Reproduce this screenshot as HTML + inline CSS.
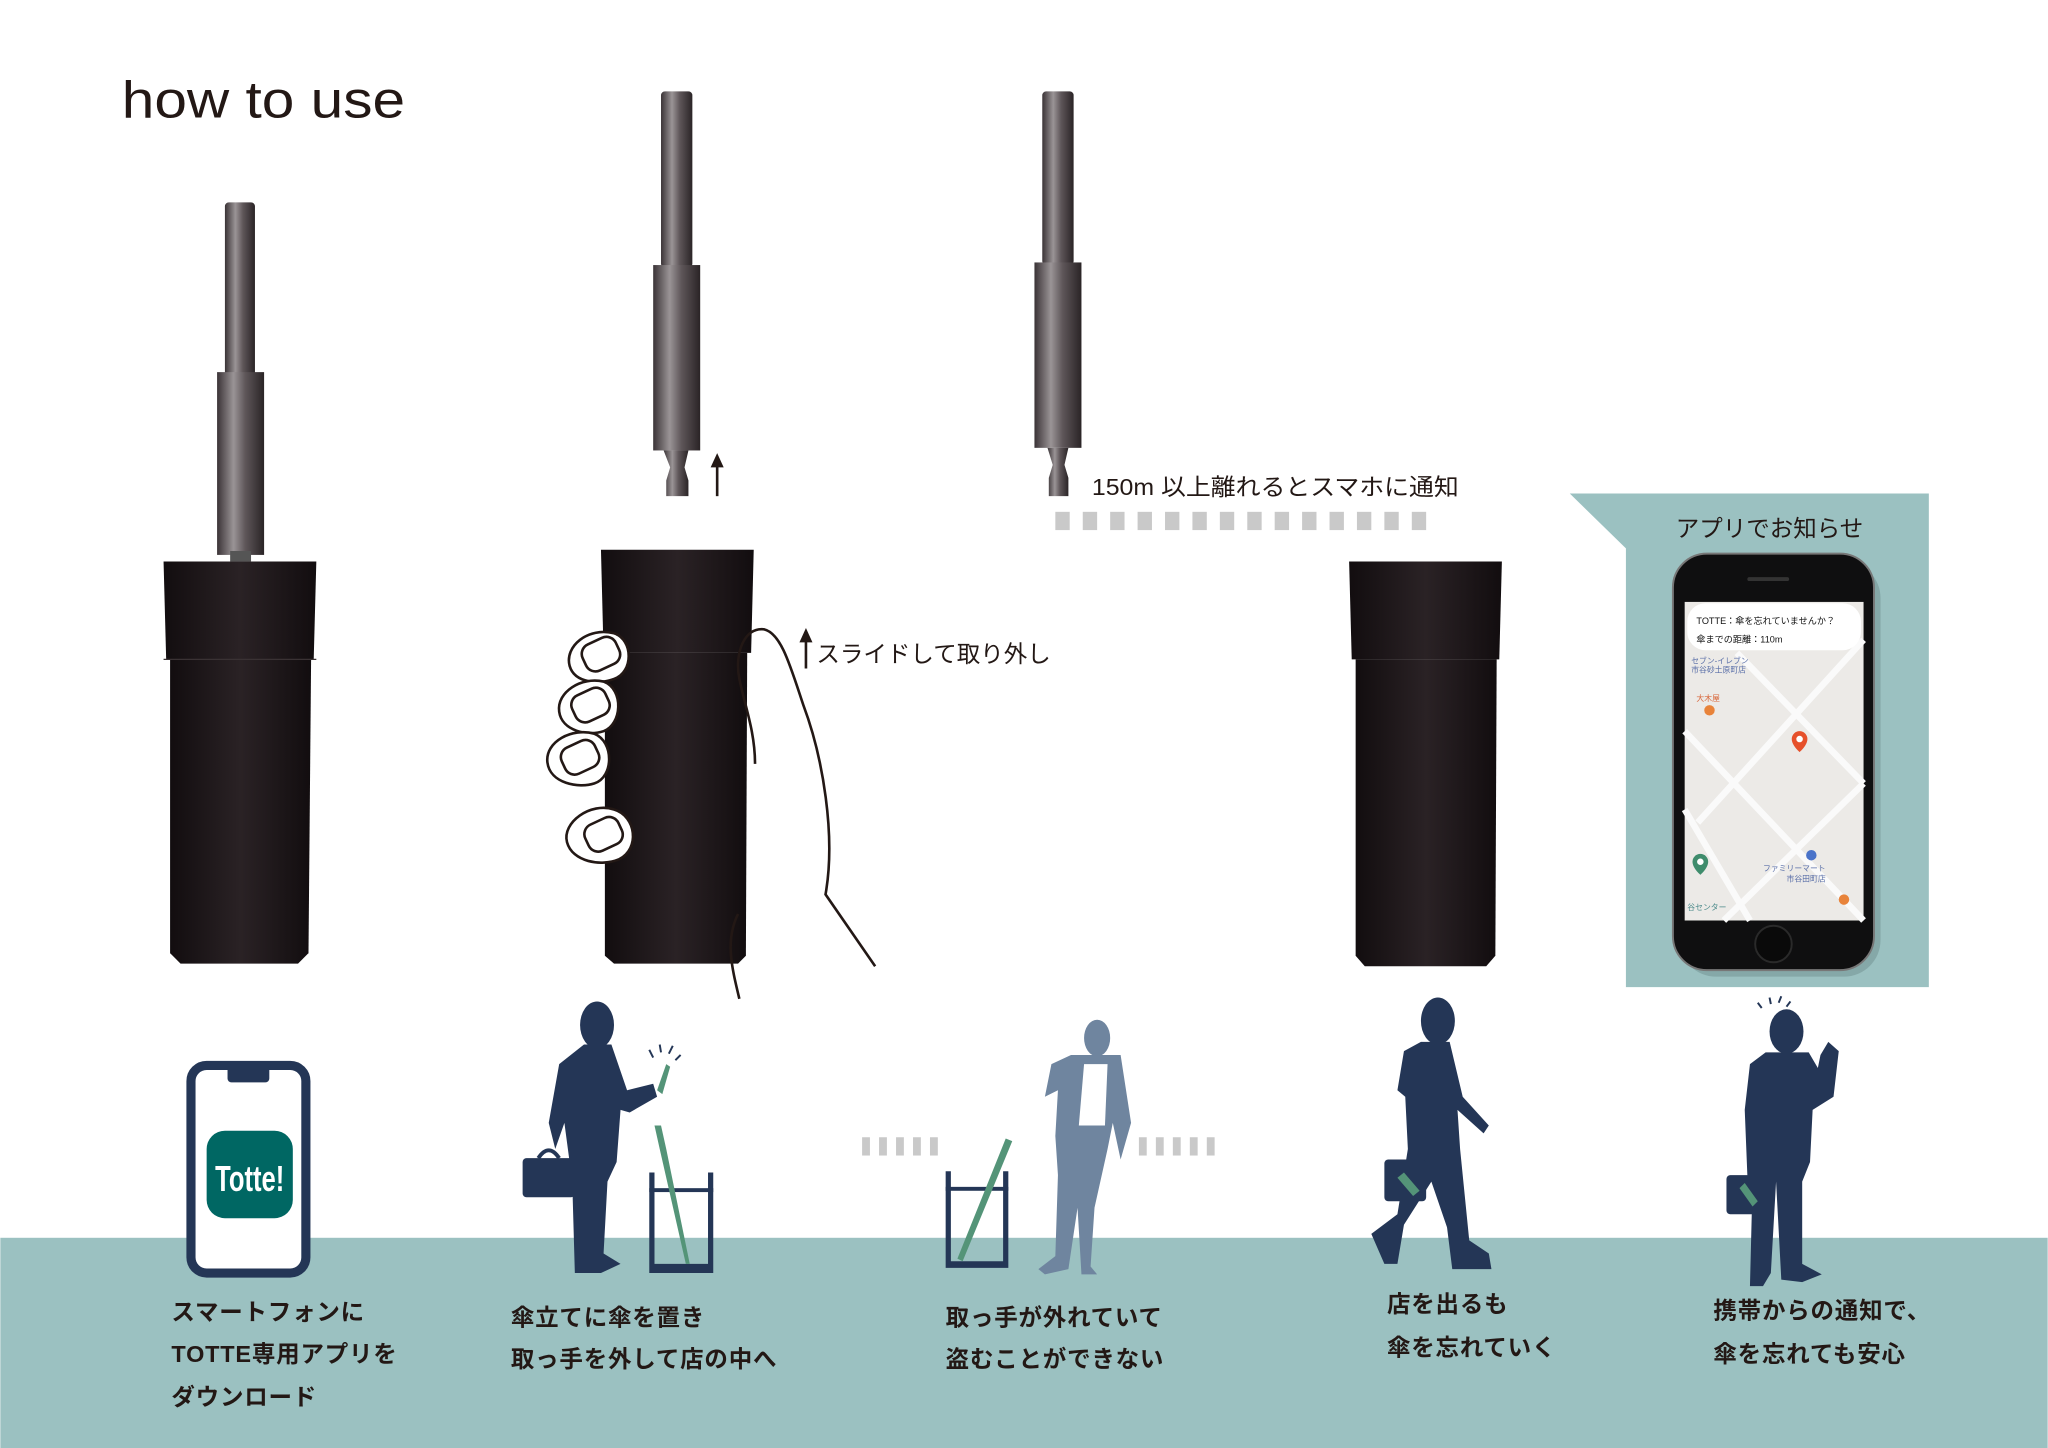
<!DOCTYPE html>
<html><head><meta charset="utf-8"><style>
html,body{margin:0;padding:0;background:#fff;}
svg{display:block;}
text{font-family:"Liberation Sans","Noto Sans CJK JP",sans-serif;}
</style></head><body>
<svg width="2048" height="1448" viewBox="0 0 1568 1109" xmlns="http://www.w3.org/2000/svg">
<defs>
<linearGradient id="metal" x1="0" x2="1" y1="0" y2="0">
<stop offset="0" stop-color="#3a3336"/><stop offset="0.35" stop-color="#9a9496"/><stop offset="0.6" stop-color="#5e5659"/><stop offset="1" stop-color="#2a2426"/>
</linearGradient>
<linearGradient id="body" x1="0" x2="1">
<stop offset="0" stop-color="#120d0f"/><stop offset="0.5" stop-color="#2a2225"/><stop offset="1" stop-color="#120d0f"/>
</linearGradient>
</defs>
<rect width="1568" height="1109" fill="#fff"/>
<rect x="0" y="948" width="1568" height="161" fill="#9bc1c1"/>
<text x="93" y="90" font-size="40" fill="#231815" textLength="217" lengthAdjust="spacingAndGlyphs">how to use</text>

<!-- product 1 -->
<rect x="172" y="155" width="23" height="135" rx="3" fill="url(#metal)"/>
<rect x="166" y="285" width="36" height="140" fill="url(#metal)"/>
<rect x="176" y="422" width="16" height="8" fill="#555"/>
<path d="M125 430 L242 430 L240 505 L127 505 Z" fill="url(#body)"/>
<path d="M130 505 L238 505 L236 730 L228 738 L138 738 L130 730 Z" fill="url(#body)"/>
<line x1="125" y1="505" x2="242" y2="505" stroke="#3a3234" stroke-width="1"/>

<!-- product 2 -->
<rect x="506" y="70" width="24" height="135" rx="3" fill="url(#metal)"/>
<rect x="500" y="203" width="36" height="142" fill="url(#metal)"/>
<path d="M508 345 L527 345 L524 358 L527 368 L527 380 L510 380 L510 368 L513 358 Z" fill="url(#metal)"/>
<line x1="549" y1="380" x2="549" y2="352" stroke="#231815" stroke-width="2"/>
<path d="M544 358 L549 347 L554 358 Z" fill="#231815"/>
<path d="M460 421 L577 421 L575 500 L462 500 Z" fill="url(#body)"/>
<path d="M463 500 L572 500 L571 732 L565 738 L470 738 L463 732 Z" fill="url(#body)"/>
<!-- hand -->
<g fill="#fff" stroke="#231815" stroke-width="2">
<path d="M566 765 C560 740 555 720 565 700" fill="none"/>
<path d="M670 740 L632 685 C640 640 630 580 615 540 C605 510 598 485 585 482 C570 480 562 500 566 520 C570 540 578 560 578 585" fill="none"/>
<path d="M470 485 C485 490 485 515 470 520 C460 524 440 524 436 510 C432 495 450 480 470 485 Z"/>
<path d="M462 522 C478 528 476 555 462 560 C450 564 430 560 428 545 C426 530 445 518 462 522 Z"/>
<path d="M455 562 C470 568 470 595 455 600 C443 604 421 600 419 584 C417 568 438 557 455 562 Z"/>
<path d="M470 620 C487 625 490 650 474 658 C460 664 438 660 434 645 C430 630 452 614 470 620 Z"/>
</g>
<g fill="none" stroke="#231815" stroke-width="2">
<rect x="446" y="490" width="28" height="22" rx="8" transform="rotate(-25 460 501)"/>
<rect x="438" y="529" width="28" height="22" rx="8" transform="rotate(-25 452 540)"/>
<rect x="430" y="569" width="28" height="22" rx="8" transform="rotate(-25 444 580)"/>
<rect x="448" y="628" width="28" height="22" rx="8" transform="rotate(-25 462 639)"/>
</g>
<line x1="617" y1="512" x2="617" y2="486" stroke="#231815" stroke-width="2"/>
<path d="M612 492 L617 481 L622 492 Z" fill="#231815"/>
<text x="625" y="507" font-size="18" fill="#231815">スライドして取り外し</text>

<!-- product 3 -->
<rect x="798" y="70" width="24" height="133" rx="3" fill="url(#metal)"/>
<rect x="792" y="201" width="36" height="142" fill="url(#metal)"/>
<path d="M802 343 L818 343 L815 356 L818 366 L818 380 L803 380 L803 366 L806 356 Z" fill="url(#metal)"/>
<text x="836" y="379" font-size="18" fill="#231815" textLength="281" lengthAdjust="spacingAndGlyphs">150m 以上離れるとスマホに通知</text>
<g fill="#c9c9c9">
<rect x="808" y="392" width="11" height="14"/><rect x="829" y="392" width="11" height="14"/><rect x="850" y="392" width="11" height="14"/><rect x="871" y="392" width="11" height="14"/><rect x="892" y="392" width="11" height="14"/><rect x="913" y="392" width="11" height="14"/><rect x="934" y="392" width="11" height="14"/><rect x="955" y="392" width="11" height="14"/><rect x="976" y="392" width="11" height="14"/><rect x="997" y="392" width="11" height="14"/><rect x="1018" y="392" width="11" height="14"/><rect x="1039" y="392" width="11" height="14"/><rect x="1060" y="392" width="11" height="14"/><rect x="1081" y="392" width="11" height="14"/>
</g>

<!-- product 4 -->
<path d="M1033 430 L1150 430 L1148 505 L1035 505 Z" fill="url(#body)"/>
<path d="M1038 505 L1146 505 L1145 732 L1138 740 L1045 740 L1038 732 Z" fill="url(#body)"/>

<!-- teal panel -->
<path d="M1202 378 L1477 378 L1477 756 L1245 756 L1245 420 Z" fill="#9bc1c1"/>
<text x="1355" y="411" font-size="18" fill="#231815" text-anchor="middle">アプリでお知らせ</text>
<rect x="1286" y="430" width="154" height="318" rx="28" fill="#6f8f8f" opacity="0.5"/>
<rect x="1281" y="424" width="154" height="319" rx="26" fill="#0f0f10" stroke="#777" stroke-width="1.5"/>
<rect x="1338" y="442" width="32" height="3" rx="1.5" fill="#333"/>
<circle cx="1358" cy="723" r="14" fill="#0a0a0a" stroke="#2a2a2a" stroke-width="1.5"/>
<rect x="1290" y="461" width="137" height="244" fill="#eceae7"/>
<g stroke="#fafafa" stroke-width="5" fill="none">
<line x1="1290" y1="560" x2="1427" y2="705"/>
<line x1="1300" y1="630" x2="1427" y2="490"/>
<line x1="1320" y1="705" x2="1427" y2="600"/>
<line x1="1330" y1="500" x2="1427" y2="600"/>
<line x1="1290" y1="620" x2="1340" y2="705"/>
</g>
<rect x="1292" y="462" width="133" height="36" rx="14" fill="#fff"/>
<text x="1299" y="478" font-size="7" fill="#111">TOTTE：傘を忘れていませんか？</text>
<text x="1299" y="492" font-size="7" fill="#111">傘までの距離：110m</text>
<text x="1295" y="508" font-size="6" fill="#5a6fa8">セブン-イレブン</text>
<text x="1295" y="515" font-size="6" fill="#5a6fa8">市谷砂土原町店</text>
<text x="1299" y="537" font-size="6" fill="#d8663a">大木屋</text>
<circle cx="1309" cy="544" r="4" fill="#e8833a"/>
<path d="M1372 566 a6 6 0 1 1 12 0 c0 5 -6 10 -6 10 c0 0 -6 -5 -6 -10z" fill="#e6502a"/>
<circle cx="1378" cy="566" r="2.5" fill="#fff"/>
<path d="M1296 660 a6 6 0 1 1 12 0 c0 5 -6 10 -6 10 c0 0 -6 -5 -6 -10z" fill="#3f8c6c"/>
<circle cx="1302" cy="660" r="2.5" fill="#fff"/>
<circle cx="1387" cy="655" r="4" fill="#4a73c9"/>
<text x="1350" y="667" font-size="6" fill="#5a6fa8">ファミリーマート</text>
<text x="1368" y="675" font-size="6" fill="#5a6fa8">市谷田町店</text>
<text x="1292" y="697" font-size="6" fill="#4a8a8a">谷センター</text>
<circle cx="1412" cy="689" r="4" fill="#e8833a"/>

<!-- bottom: phone icon -->
<rect x="146" y="816" width="88" height="159" rx="12" fill="#fff" stroke="#243656" stroke-width="7"/>
<rect x="174" y="816" width="32" height="13" rx="3" fill="#243656"/>
<rect x="158" y="866" width="66" height="67" rx="14" fill="#006763"/>
<text x="191" y="912" font-size="28" fill="#fff" text-anchor="middle" font-weight="bold" transform="translate(191 0) scale(0.7 1) translate(-191 0)">Totte!</text>

<!-- person 2 -->
<g fill="#243656">
<ellipse cx="457" cy="785" rx="13" ry="18"/>
<path d="M447 800 L468 800 L480 835 L500 830 L503 840 L482 852 L475 850 L472 890 L465 905 L462 960 L475 968 L460 975 L440 975 L438 905 L432 860 L425 880 L420 860 L428 815 Z"/>
<rect x="400" y="887" width="40" height="30" rx="3"/>
<path d="M412 887 q8 -12 16 0" fill="none" stroke="#243656" stroke-width="3"/>
<path d="M497 898 h4 v70 h41 v-70 h4 v77 h-49 z"/>
<rect x="497" y="910" width="49" height="3"/>
</g>
<path d="M503 835 L510 815 L513 817 L507 838 Z" fill="#549478"/>
<path d="M501 862 L505 880 L525 968 L528 968 L510 880 L506 862 Z" fill="#549478"/>
<g stroke="#243656" stroke-width="1.5"><line x1="500" y1="810" x2="497" y2="804"/><line x1="506" y1="806" x2="505" y2="800"/><line x1="512" y1="807" x2="515" y2="801"/><line x1="517" y1="812" x2="521" y2="808"/></g>

<!-- step 3 -->
<g fill="#c9c9c9">
<rect x="660" y="871" width="6" height="14"/><rect x="673" y="871" width="6" height="14"/><rect x="686" y="871" width="6" height="14"/><rect x="699" y="871" width="6" height="14"/><rect x="712" y="871" width="6" height="14"/>
<rect x="872" y="871" width="6" height="14"/><rect x="885" y="871" width="6" height="14"/><rect x="898" y="871" width="6" height="14"/><rect x="911" y="871" width="6" height="14"/><rect x="924" y="871" width="6" height="14"/>
</g>
<path d="M724 897 h4 v69 h40 v-69 h4 v74 h-48 z" fill="#243656"/>
<rect x="724" y="909" width="48" height="3" fill="#243656"/>
<path d="M770 872 L775 874 L737 966 L733 964 Z" fill="#549478"/>
<g fill="#6f859f">
<ellipse cx="840" cy="795" rx="10" ry="14"/>
<path d="M820 808 L858 808 L866 860 L858 888 L852 860 L848 880 L838 925 L835 970 L840 976 L828 976 L825 925 L818 972 L800 976 L795 972 L808 962 L810 900 L808 870 L810 835 L800 840 L805 815 Z"/>
</g>
<path d="M830 815 L848 815 L846 862 L826 862 Z" fill="#fff"/>

<!-- person 4 -->
<g fill="#243656">
<ellipse cx="1101" cy="782" rx="13" ry="18"/>
<path d="M1088 798 L1110 798 L1120 840 L1140 862 L1136 868 L1116 850 L1118 880 L1125 950 L1140 960 L1142 972 L1112 972 L1108 940 L1096 905 L1075 938 L1070 968 L1060 968 L1050 945 L1070 930 L1078 880 L1076 840 L1070 835 L1075 805 Z"/>
<rect x="1060" y="888" width="32" height="32" rx="3"/>
</g>
<path d="M1070 902 L1075 898 L1087 912 L1082 916 Z" fill="#549478"/>

<!-- person 5 -->
<g fill="#243656">
<ellipse cx="1368" cy="790" rx="13" ry="17"/>
<path d="M1352 806 L1385 806 L1392 818 L1394 808 L1400 798 L1408 805 L1404 840 L1388 850 L1386 890 L1380 905 L1380 968 L1395 976 L1380 982 L1364 980 L1360 905 L1356 975 L1350 985 L1340 985 L1342 905 L1338 900 L1336 850 L1340 815 Z"/>
<rect x="1322" y="900" width="28" height="30" rx="3"/>
</g>
<path d="M1332 910 L1336 906 L1346 920 L1342 924 Z" fill="#549478"/>
<g stroke="#243656" stroke-width="1.5"><line x1="1349" y1="772" x2="1346" y2="768"/><line x1="1356" y1="769" x2="1355" y2="764"/><line x1="1362" y1="768" x2="1364" y2="763"/><line x1="1368" y1="771" x2="1371" y2="767"/></g>

<!-- captions -->
<g font-size="18" fill="#231815" font-weight="bold" letter-spacing="0.6">
<text x="131" y="1011">スマートフォンに</text>
<text x="131" y="1043">TOTTE専用アプリを</text>
<text x="131" y="1076">ダウンロード</text>
<text x="391" y="1015">傘立てに傘を置き</text>
<text x="391" y="1047">取っ手を外して店の中へ</text>
<text x="724" y="1015">取っ手が外れていて</text>
<text x="724" y="1047">盗むことができない</text>
<text x="1062" y="1005">店を出るも</text>
<text x="1062" y="1038">傘を忘れていく</text>
<text x="1312" y="1010">携帯からの通知で、</text>
<text x="1312" y="1043">傘を忘れても安心</text>
</g>
</svg>
</body></html>
